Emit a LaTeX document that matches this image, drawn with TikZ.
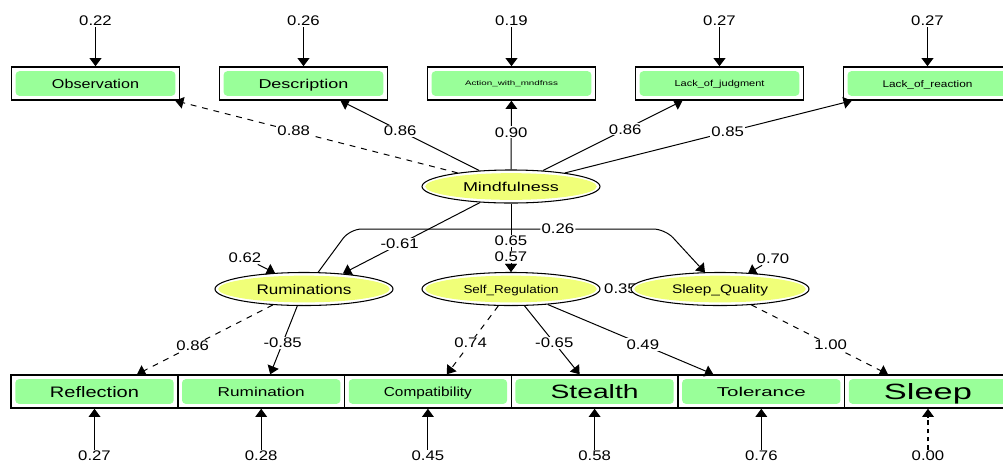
\documentclass[tikz,border=0pt]{standalone}
\usepackage{fontspec}
\setmainfont{Liberation Sans}
\newfontfamily\numfont{Liberation Sans}[FakeStretch=1.2]
\usetikzlibrary{arrows.meta,shapes.geometric,calc}
\newlength\pxu \setlength\pxu{0.03cm}
\newcommand\fitt[3]{\raisebox{0pt}[\height][0pt]{\resizebox{#1\pxu}{#2\pxu}{#3}}}
\definecolor{boxg}{RGB}{153,255,153}
\definecolor{elly}{RGB}{240,255,120}
\tikzset{
 obsbox/.style={draw=black, line width=1.2pt, fill=white, minimum width=143.4pt, minimum height=28.2pt, inner sep=0pt,
   path picture={\fill[boxg,rounded corners=3pt] ([xshift=3.6pt,yshift=3.6pt]path picture bounding box.south west) rectangle ([xshift=-3.6pt,yshift=-3.6pt]path picture bounding box.north east);}},
 botbox/.style={obsbox, minimum width=142.3pt},
 latent/.style={ellipse, draw=black, line width=0.9pt, fill=white, minimum width=151.9pt, minimum height=28.2pt, inner sep=0pt,
   path picture={\fill[elly] (path picture bounding box.center) ellipse [x radius=73.2pt, y radius=11.4pt];}},
 num/.style={font=\numfont\fontsize{11.9pt}{12pt}\selectfont, inner sep=1pt},
 lab/.style={num, fill=white},
 arr/.style={-{Triangle[width=10pt,length=7pt]}, line width=0.85pt},
 toperr/.style={arr, line width=1.6pt},
 boterr/.style={arr, line width=1pt},
 dsh/.style={dash pattern=on 5pt off 5pt},
}
\begin{document}
\begin{tikzpicture}[x=0.03cm,y=-0.03cm]
\useasboundingbox (0,0) rectangle (1003,462);
\clip (0,0) rectangle (1003,462);

% top indicator boxes
\node[obsbox] (obs) at (95.5,83.5) {\fitt{87}{9.3}{Observation}};
\node[obsbox] (desc) at (303.5,83.5) {\fitt{90}{9.3}{Description}};
\node[obsbox] (act) at (511.5,83.5) {\fitt{93}{4.8}{Action\_with\_mndfnss}};
\node[obsbox] (jud) at (719.5,83.5) {\fitt{90}{6.3}{Lack\_of\_judgment}};
\node[obsbox] (rea) at (927.5,83.5) {\fitt{90}{7}{Lack\_of\_reaction}};

% latent variables
\node[latent] (mind) at (511,186.5) {\fitt{96}{9.3}{Mindfulness}};
\node[latent] (rum) at (304,289) {\fitt{95}{10}{Ruminations}};
\node[latent] (sr) at (511,289) {\fitt{95}{8.3}{Self\_Regulation}};
\node[num] (p35) at (620.5,289) {0.35};
\node[latent] (sq) at (720,289) {\fitt{96}{9}{Sleep\_Quality}};

% bottom indicator boxes
\node[botbox] (refl) at (94.5,391.5) {\fitt{89}{11}{Reflection}};
\node[botbox] (rumi) at (261.2,391.5) {\fitt{87}{9.3}{Rumination}};
\node[botbox] (comp) at (427.9,391.5) {\fitt{88}{9.5}{Compatibility}};
\node[botbox] (st) at (594.6,391.5) {\fitt{88}{14}{Stealth}};
\node[botbox] (tol) at (761.3,391.5) {\fitt{89}{9.3}{Tolerance}};
\node[botbox] (sl) at (928,391.5) {\fitt{88}{16}{Sleep}};

% top error terms
\node[num] (t1) at (95.5,21) {0.22};
\node[num] (t2) at (303.5,21) {0.26};
\node[num] (t3) at (511.5,21) {0.19};
\node[num] (t4) at (719.5,21) {0.27};
\node[num] (t5) at (927.5,21) {0.27};
\draw[toperr] (t1) -- (obs);
\draw[toperr] (t2) -- (desc);
\draw[toperr] (t3) -- (act);
\draw[toperr] (t4) -- (jud);
\draw[toperr] (t5) -- (rea);

% loadings of Mindfulness
\draw[arr,dsh] (mind) -- node[lab,pos=.58]{0.88} ($(obs.south east)+(-5,0)$);
\draw[arr] (mind) -- node[lab,pos=.57]{0.86} ($(desc.south)+(37,0)$);
\draw[arr] (mind) -- node[lab,pos=.54]{0.90} (act);
\draw[arr] (mind) -- node[lab,pos=.59]{0.86} ($(jud.south)+(-37,0)$);
\draw[arr] (mind) -- node[lab,pos=.567]{0.85} ($(rea.south west)+(9,0)$);

% structural paths
\draw[arr] (mind) -- node[lab,pos=.587]{-0.61} ($(rum.north)+(39,1.5)$);
\draw[arr] (mind) -- node[lab,pos=.55]{0.65} (sr);
\node[lab] (e57) at (511,257) {0.57};
\draw[arr] (e57) -- (sr);
\draw[arr,rounded corners=10pt] ($(rum.north)+(14,0.5)$) -- (350,229) -- node[lab,pos=.66]{0.26} (665,229) -- ($(sq.north)+(-15,0.5)$);

% residuals of latents
\node[num] (e62) at (245,258) {0.62};
\draw[arr] (e62) -- ($(rum.north)+(-29,1)$);
\node[num] (e70) at (773,259) {0.70};
\draw[arr] (e70) -- ($(sq.north)+(28,1.5)$);

% bottom loadings
\draw[arr,dsh] (rum) -- node[lab,pos=.59]{0.86} ($(refl.north)+(42.5,0)$);
\draw[arr] (rum) -- node[lab,pos=.54]{-0.85} ($(rumi.north)+(9,0)$);
\draw[arr,dsh] (sr) -- node[lab,pos=.54]{0.74} ($(comp.north)+(19,0)$);
\draw[arr] (sr) -- node[lab,pos=.54]{-0.65} ($(st.north)+(-15,0)$);
\draw[arr] (sr) -- node[lab,pos=.574]{0.49} ($(tol.north)+(-48,0)$);
\draw[arr,dsh] (sq) -- node[lab,pos=.58]{1.00} ($(sl.north)+(-40,0)$);

% bottom error terms
\node[num] (b1) at (94.5,456) {0.27};
\node[num] (b2) at (261.2,456) {0.28};
\node[num] (b3) at (427.9,456) {0.45};
\node[num] (b4) at (594.6,456) {0.58};
\node[num] (b5) at (761.3,456) {0.76};
\node[num] (b6) at (928,456) {0.00};
\draw[boterr] (b1) -- (refl);
\draw[boterr] (b2) -- (rumi);
\draw[boterr] (b3) -- (comp);
\draw[boterr] (b4) -- (st);
\draw[boterr] (b5) -- (tol);
\draw[boterr,dash pattern=on 4pt off 3pt] (b6) -- (sl);
\end{tikzpicture}
\end{document}
